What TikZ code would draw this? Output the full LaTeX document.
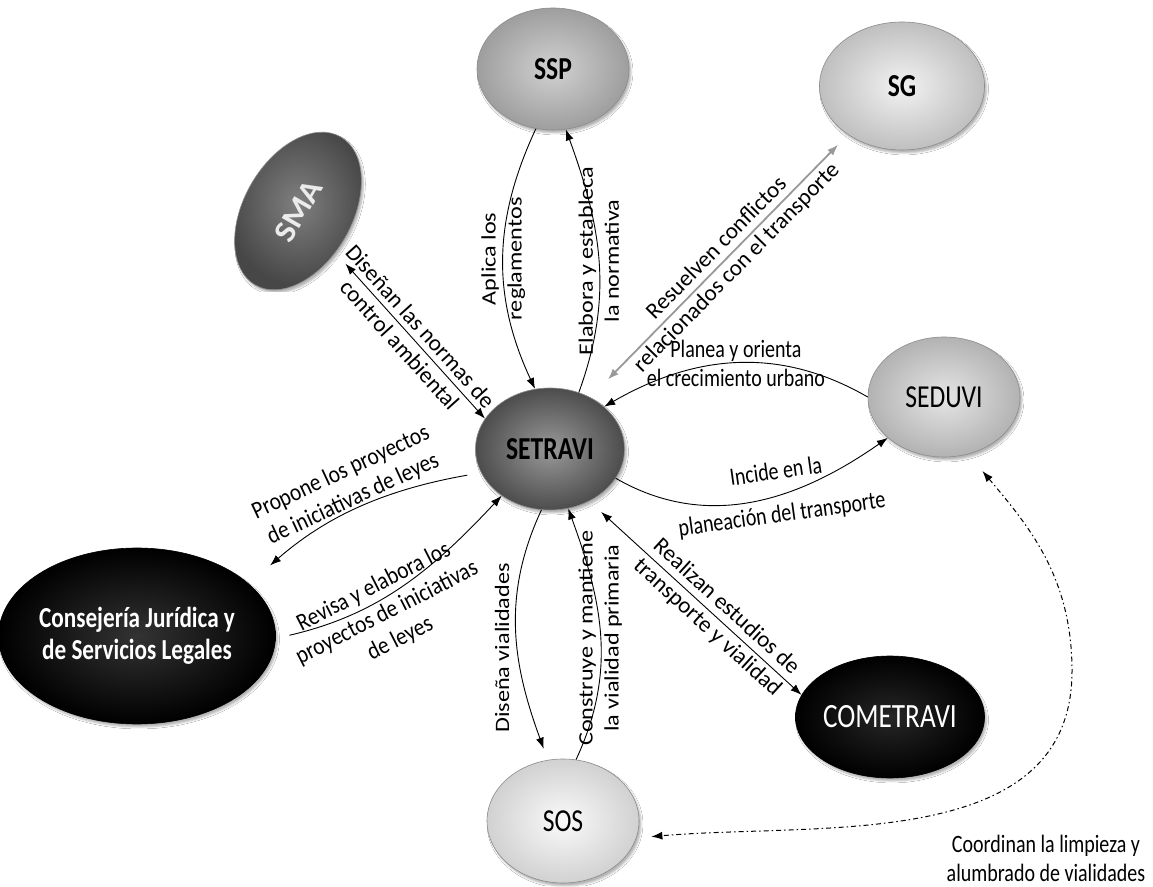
\documentclass[tikz,border=0pt]{standalone}
\usepackage{fontspec}
\setmainfont{Carlito}[FakeStretch=0.8]
\newfontfamily\vfam{Carlito}[FakeStretch=1.18]
\newfontfamily\dfam{Carlito}[FakeStretch=1.0]
\newfontfamily\qfam{Carlito}[FakeStretch=0.87]
\newfontfamily\smafam{Carlito}[FakeStretch=1.1]
\usetikzlibrary{arrows.meta,shapes.geometric,shadows.blur}
\tikzset{
  org/.style 2 args = {ellipse, draw=black!45, line width=.6pt, inner color=#1, outer color=#2,
    inner sep=0pt, blur shadow={shadow xshift=2pt, shadow yshift=-3pt, shadow opacity=30},
    font=\fontsize{32}{36}\selectfont},
  lbl/.style = {font=\fontsize{25}{29}\selectfont, align=center, inner sep=1pt},
  vlbl/.style = {lbl, rotate=90, font=\vfam\fontsize{20.5}{26}\selectfont},
  dlbl/.style = {lbl, font=\dfam\fontsize{23}{28}\selectfont},
  qlbl/.style = {lbl, font=\qfam\fontsize{24.5}{29}\selectfont},
  arr/.style = {-{Latex[length=11pt,width=8pt]}, line width=.9pt},
  darr/.style = {{Latex[length=11pt,width=8pt]}-{Latex[length=11pt,width=8pt]}, line width=.9pt},
  garr/.style = {darr, draw=black!40, line width=1.8pt},
  coord/.style = {darr, line width=1pt, dash pattern=on 5pt off 3pt on 1.5pt off 3pt}
}

\begin{document}
\begin{tikzpicture}[x=1pt,y=1pt]
  \fill[white] (0,0) rectangle (1153,886);
  \useasboundingbox (0,0) rectangle (1153,886);
  % organismos
  \node[org={black!18}{black!38}, minimum width=152pt, minimum height=122pt] (ssp) at (553,817) {\bfseries SSP};
  \node[org={black!5}{black!25}, minimum width=165pt, minimum height=128pt] (sg) at (902,800) {\bfseries SG};
  \node[org={black!50}{black!72}, minimum width=171pt, minimum height=108pt, rotate=60, text=black!8,
    font=\smafam\fontsize{31}{34}\selectfont] (sma) at (298,675) {\bfseries SMA};
  \node[org={black!40}{black!70}, minimum width=149pt, minimum height=122pt] (setravi) at (550,437) {\bfseries SETRAVI};
  \node[org={black!10}{black!30}, minimum width=152pt, minimum height=120pt] (seduvi) at (944,489) {SEDUVI};
  \node[org={black!80}{black}, draw=black, minimum width=256pt, minimum height=176pt, text=white, align=center,
    font=\fontsize{29}{32}\selectfont\bfseries] (cjsl) at (137,250) {Consejería Jurídica y\\de Servicios Legales};
  \node[org={black!85}{black}, draw=black, minimum width=162pt, minimum height=122pt, text=white,
    font=\fontsize{34}{38}\selectfont] (cometravi) at (890,169) {COMETRAVI};
  \node[org={black!2}{black!18}, minimum width=152pt, minimum height=124pt] (sos) at (563,65) {SOS};

  % ssp
  \draw[arr] (ssp.-106) to[out=-115,in=115] node[vlbl] (laplica) {Aplica los\\reglamentos} (setravi.104);
  \draw[arr] (setravi.63) to[out=70,in=-70] node[vlbl] (lelabora) {Elabora y estableca\\la normativa} (ssp.-78);
  % sg
  \draw[garr, shorten <=25pt, shorten >=14pt] (setravi.52) -- node[dlbl, sloped, pos=.53] (lresuelven)
    {Resuelven conflictos\\relacionados con el transporte} (sg.222);
  % sma
  \draw[darr, shorten <=15pt] (sma) -- node[dlbl, sloped] (ldisenan) {Diseñan las normas de\\control ambiental} (setravi.155);
  % seduvi
  \draw[arr] (seduvi.180) to[out=150,in=30] node[lbl] (lplanea) {Planea y orienta\\el crecimiento urbano} (setravi.38);
  \draw[arr] (setravi.-24) to[out=-30,in=-145] (seduvi.216);
  \node[lbl, rotate=8] (lincide) at (779,392) {Incide en la\\[14pt]planeación del transporte};
  % consejeria
  \draw[arr, shorten <=14pt, shorten >=28pt] (setravi.199) to[out=190,in=41] (cjsl.25);
  \node[qlbl, rotate=25] (lpropone) at (347,400) {Propone los proyectos\\de iniciativas de leyes};
  \draw[arr, shorten <=14pt] (cjsl.-1) to[out=13,in=-133] (setravi.224);
  \node[qlbl, rotate=27] (lrevisa) at (387,273) {Revisa y elabora los\\proyectos de iniciativas\\de leyes};
  % sos
  \draw[arr, shorten >=12pt] (setravi.-98) to[out=-115,in=110] (sos.104);
  \node[vlbl] (ldisena) at (502,238) {Diseña vialidades};
  \draw[arr] (sos.78) to[out=65,in=-70] node[vlbl, xshift=-3pt] (lconstruye) {Construye y mantiene\\la vialidad primaria} (setravi.-73);
  % cometravi
  \draw[darr, shorten <=16pt] (setravi.-53) -- node[dlbl, sloped, pos=.6] (lrealizan)
    {Realizan estudios de\\transporte y vialidad} (cometravi.166);
  % seduvi - sos
  \coordinate (dbend) at (1072,215);
  \draw[coord, shorten <=22pt, shorten >=15pt] (seduvi.-67) to[out=-50,in=90] (dbend) to[out=-90,in=5] (sos.-13);
  \node[lbl] (lcoordinan) at (1046,28) {Coordinan la limpieza y\\alumbrado de vialidades};
\end{tikzpicture}
\end{document}
